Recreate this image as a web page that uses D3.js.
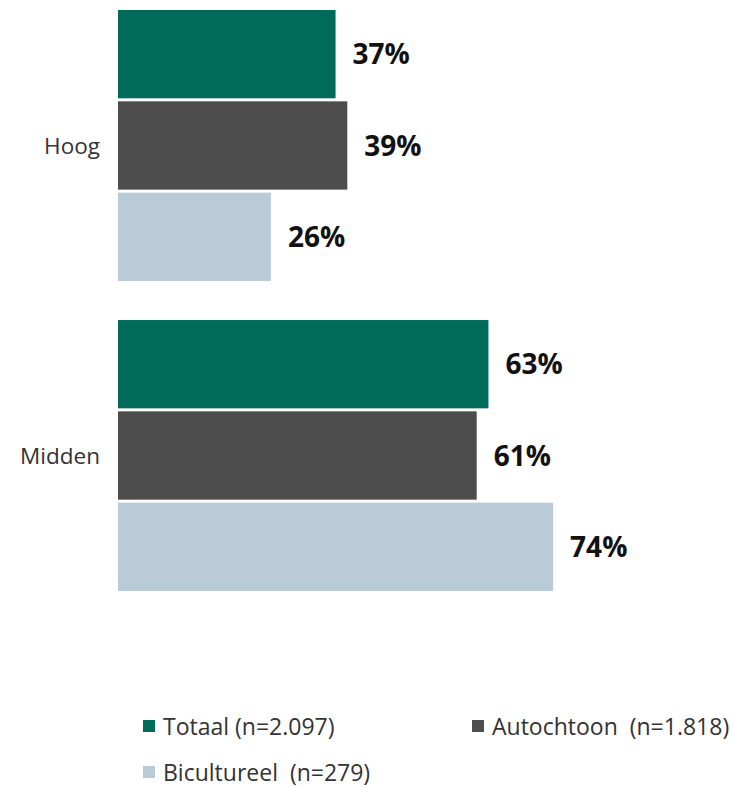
<!DOCTYPE html>
<html><head><meta charset="utf-8">
<script src="https://cdn.jsdelivr.net/npm/d3@7"></script>
<style>body{margin:0;background:#fff}text{font-family:"Open Sans","Noto Sans",sans-serif}</style>
</head><body>
<svg id="c" width="742" height="787"></svg>
<script>
const categories = ["Hoog", "Midden"];
const seriesNames = ["Totaal (n=2.097)", "Autochtoon  (n=1.818)", "Bicultureel  (n=279)"];
const totaal = [37, 63];
const autochtoon = [39, 61];
const bicultureel = [26, 74];
const colors = ["#006B5A", "#4D4D4D", "#B9CBD7"];

const series = [totaal, autochtoon, bicultureel];
const svg = d3.select("#c");
const x = d3.scaleLinear().domain([0, 100]).range([118, 706]);
const y0 = d3.scaleBand().domain(categories).range([10, 591]).paddingInner(0.126).paddingOuter(0);
const y1 = d3.scaleBand().domain(d3.range(3)).range([0, y0.bandwidth()]).paddingInner(0.033);

categories.forEach((c, ci) => {
  const g = svg.append("g").attr("transform", `translate(0,${y0(c)})`);
  series.forEach((s, si) => {
    g.append("rect").attr("x", x(0)).attr("y", y1(si))
      .attr("width", x(s[ci]) - x(0)).attr("height", y1.bandwidth())
      .attr("fill", colors[si]);
    g.append("text").attr("x", x(s[ci]) + 17).attr("y", y1(si) + y1.bandwidth() / 2)
      .attr("dy", "0.36em").attr("font-size", 28).attr("font-weight", 700)
      .attr("fill", "#111").text(s[ci] + "%");
  });
  svg.append("text").attr("x", 100).attr("y", y0(c) + y0.bandwidth() / 2)
    .attr("dy", "0.36em").attr("text-anchor", "end").attr("font-size", 22.5)
    .attr("fill", "#333").text(c);
});

const legendPos = [[143, 727], [472, 727], [143, 773]];
seriesNames.forEach((n, i) => {
  const [lx, ly] = legendPos[i];
  svg.append("rect").attr("x", lx).attr("y", ly - 7).attr("width", 12).attr("height", 12).attr("fill", colors[i]);
  svg.append("text").attr("x", lx + 20).attr("y", ly).attr("dy", "0.36em")
    .attr("font-size", 23).attr("fill", "#333").style("white-space", "pre").text(n);
});
</script>
</body></html>
